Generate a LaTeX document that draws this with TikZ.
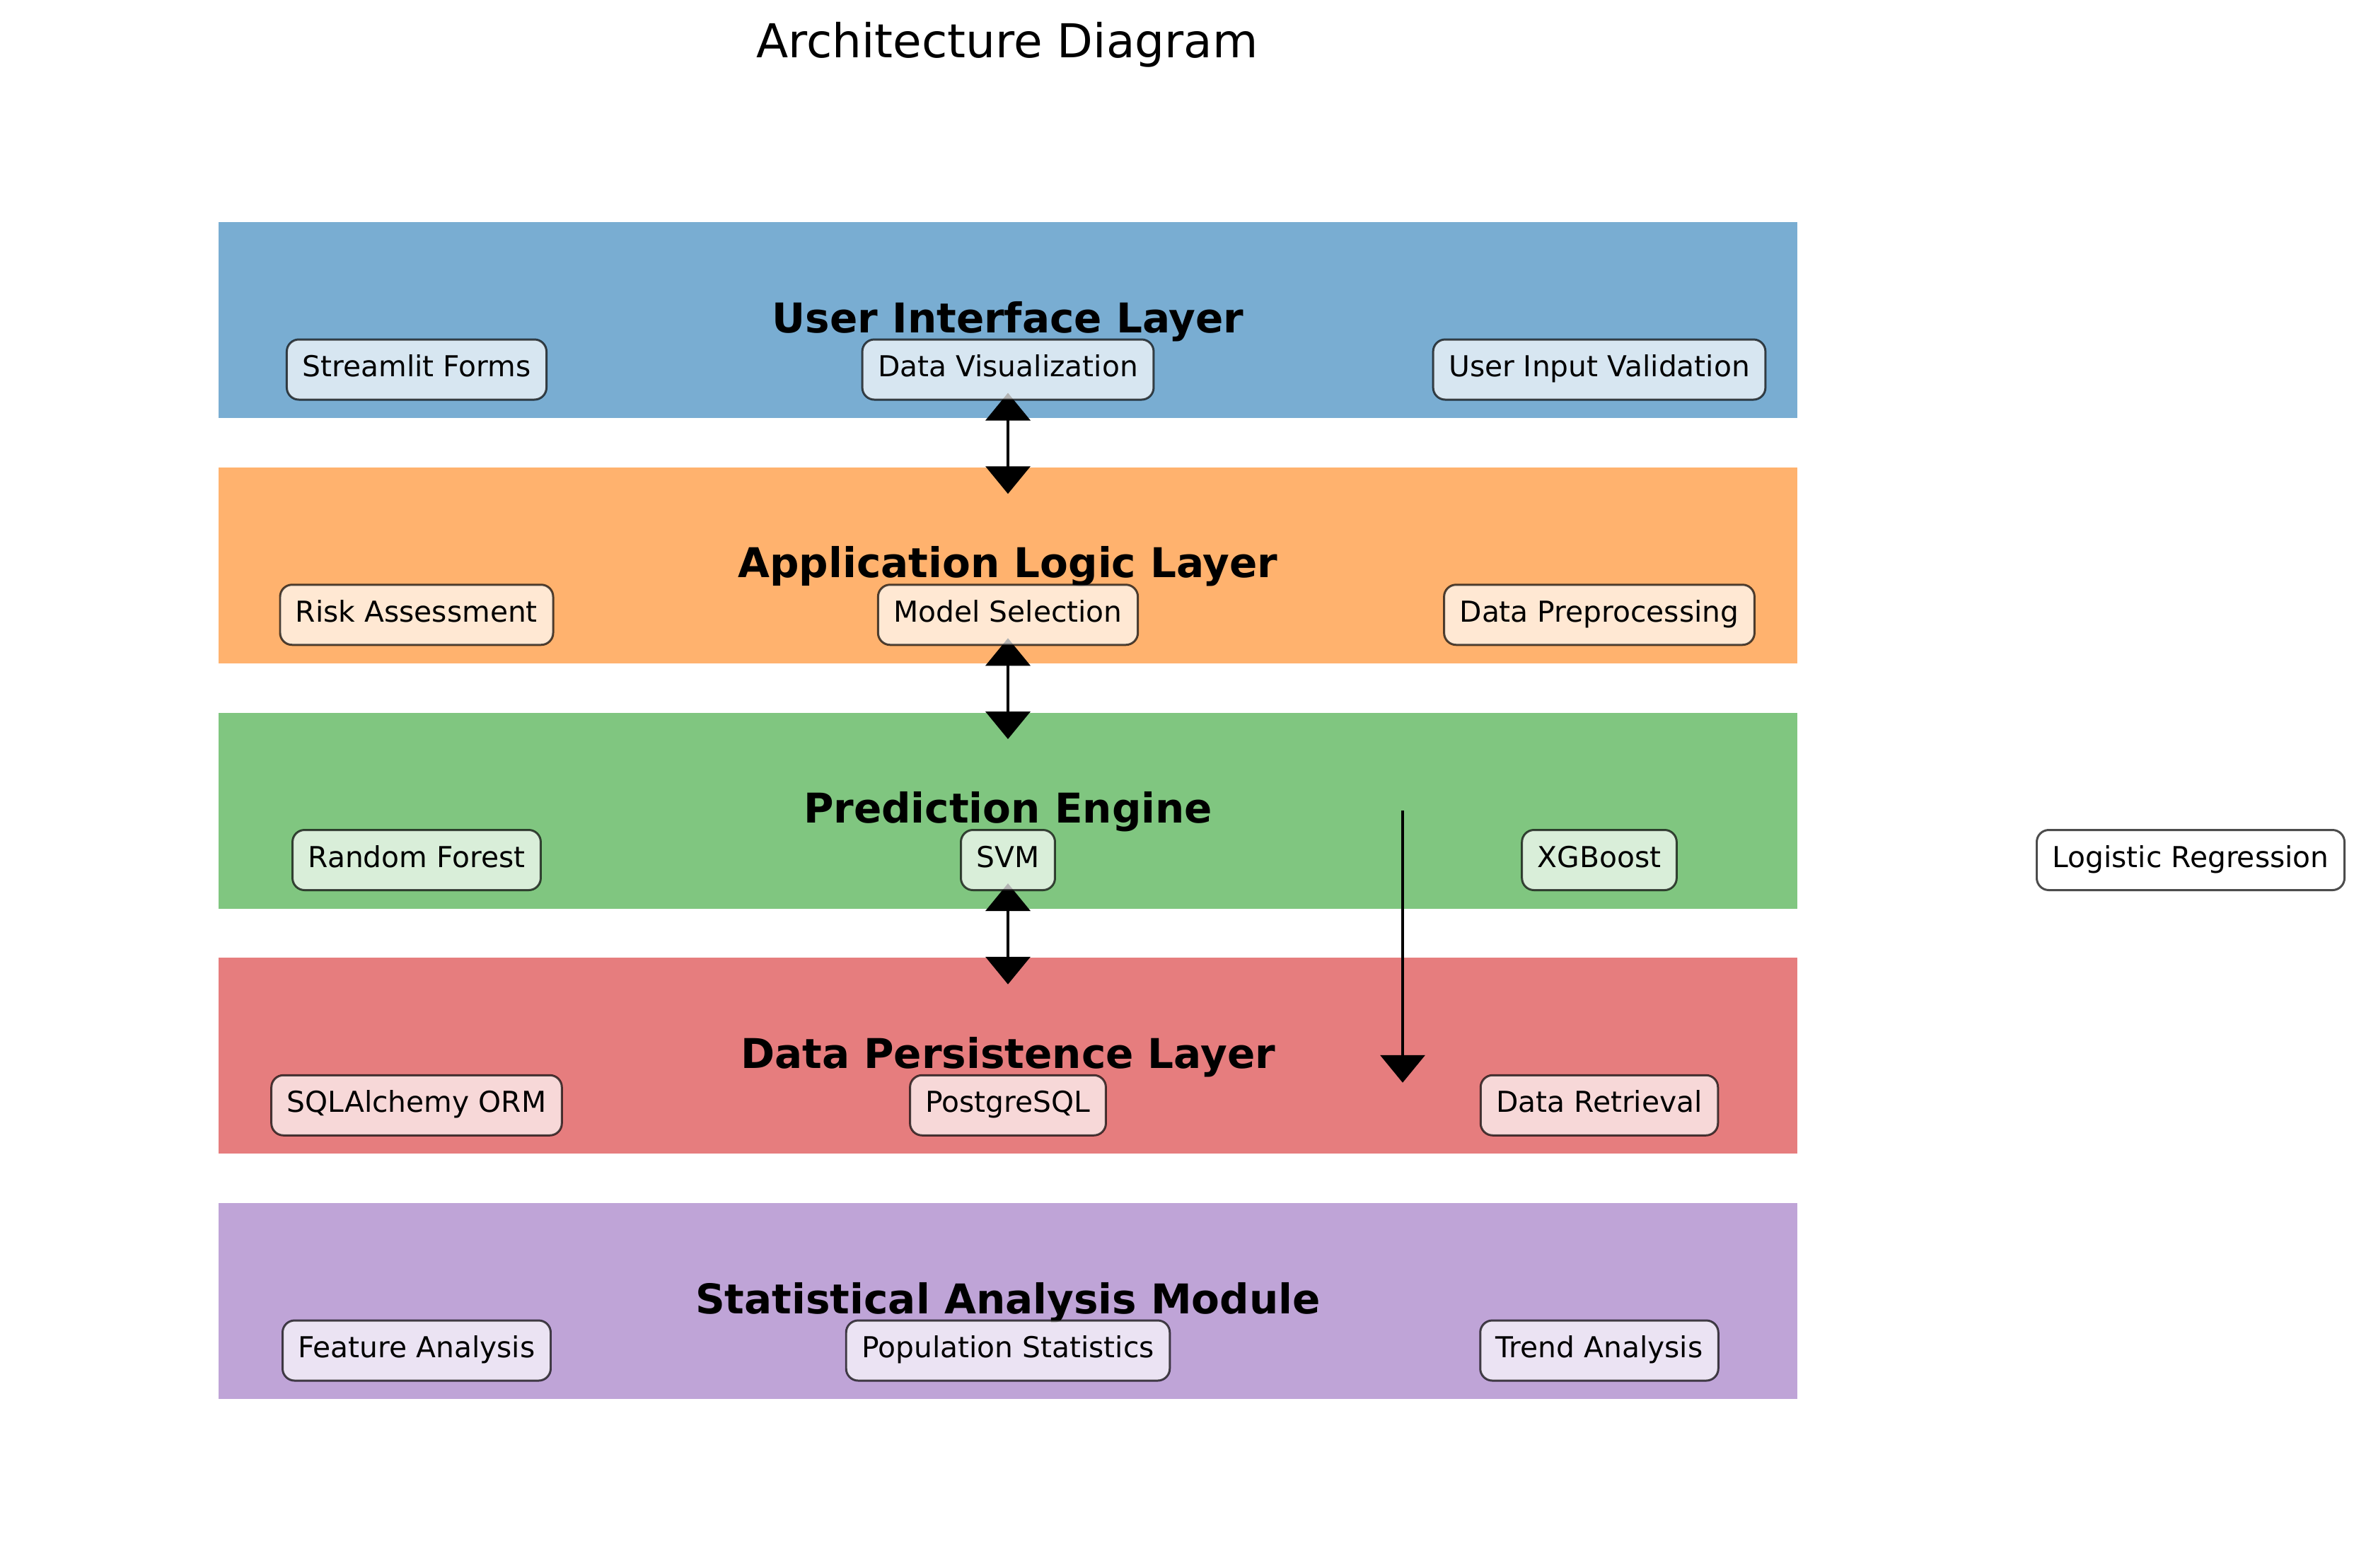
\documentclass[tikz,border=0pt]{standalone}
\usepackage{fontspec}
\setmainfont{DejaVu Sans}
\usetikzlibrary{positioning, arrows.meta}
\definecolor{uiblue}{HTML}{79ADD2}
\definecolor{logicorange}{HTML}{FFB26E}
\definecolor{enginegreen}{HTML}{80C680}
\definecolor{persistred}{HTML}{E67D7E}
\definecolor{statspurple}{HTML}{BFA4D7}
\tikzset{
  layer/.style={rectangle, minimum width=22.32cm, minimum height=2.77cm, inner sep=0pt, outer sep=0pt},
  layertitle/.style={anchor=base, font=\fontsize{16.5}{20}\selectfont\bfseries},
  comp/.style={rectangle, rounded corners=1.7mm, draw=black, fill=white, opacity=0.7, text opacity=1,
    line width=0.85pt, font=\fontsize{11.6}{14}\selectfont, text height=0.8em, text depth=0.22em,
    inner xsep=0.22cm, inner ysep=0.2cm, minimum height=0.85cm},
  link/.style={line width=1.15pt, >={Triangle[length=3.9mm, width=6.3mm]}}
}

\begin{document}
\begin{tikzpicture}
  \useasboundingbox (0,0) rectangle (33.28,-22.16);
  % Title
  \node (title) [anchor=base, font=\fontsize{18.8}{22}\selectfont] at (14.24,-0.81) {Architecture Diagram};

  % Layers
  \node (ui) [layer, fill=uiblue] at (14.25,-4.525) {};
  \node (logic) [layer, fill=logicorange, below=0.6975cm of ui] {};
  \node (engine) [layer, fill=enginegreen, below=0.6975cm of logic] {};
  \node (persist) [layer, fill=persistred, below=0.6975cm of engine] {};
  \node (stats) [layer, fill=statspurple, below=0.6975cm of persist] {};

  \node (uititle) [layertitle] at ([yshift=-0.175cm]ui.center) {User Interface Layer};
  \node (logictitle) [layertitle] at ([yshift=-0.175cm]logic.center) {Application Logic Layer};
  \node (enginetitle) [layertitle] at ([yshift=-0.175cm]engine.center) {Prediction Engine};
  \node (persisttitle) [layertitle] at ([yshift=-0.175cm]persist.center) {Data Persistence Layer};
  \node (statstitle) [layertitle] at ([yshift=-0.175cm]stats.center) {Statistical Analysis Module};

  % Flow between layers
  \draw[link, <->] ([yshift=-1.03cm]ui.center) -- ([yshift=1.01cm]logic.center);
  \draw[link, <->] ([yshift=-1.03cm]logic.center) -- ([yshift=1.01cm]engine.center);
  \draw[link, <->] ([yshift=-1.03cm]engine.center) -- ([yshift=1.01cm]persist.center);
  \draw[link, ->] ([xshift=5.58cm]engine.center) -- ([xshift=5.58cm, yshift=-0.38cm]persist.center);

  % Components
  \node (forms) [comp] at ([xshift=-8.36cm, yshift=-0.7cm]ui.center) {Streamlit Forms};
  \node (dataviz) [comp] at ([yshift=-0.7cm]ui.center) {Data Visualization};
  \node (validation) [comp] at ([xshift=8.36cm, yshift=-0.7cm]ui.center) {User Input Validation};

  \node (risk) [comp] at ([xshift=-8.36cm, yshift=-0.7cm]logic.center) {Risk Assessment};
  \node (selection) [comp] at ([yshift=-0.7cm]logic.center) {Model Selection};
  \node (preproc) [comp] at ([xshift=8.36cm, yshift=-0.7cm]logic.center) {Data Preprocessing};

  \node (forest) [comp] at ([xshift=-8.36cm, yshift=-0.7cm]engine.center) {Random Forest};
  \node (svm) [comp] at ([yshift=-0.7cm]engine.center) {SVM};
  \node (xgboost) [comp] at ([xshift=8.36cm, yshift=-0.7cm]engine.center) {XGBoost};
  \node (logreg) [comp] at ([xshift=16.72cm, yshift=-0.7cm]engine.center) {Logistic Regression};

  \node (orm) [comp] at ([xshift=-8.36cm, yshift=-0.7cm]persist.center) {SQLAlchemy ORM};
  \node (postgres) [comp] at ([yshift=-0.7cm]persist.center) {PostgreSQL};
  \node (retrieval) [comp] at ([xshift=8.36cm, yshift=-0.7cm]persist.center) {Data Retrieval};

  \node (features) [comp] at ([xshift=-8.36cm, yshift=-0.7cm]stats.center) {Feature Analysis};
  \node (population) [comp] at ([yshift=-0.7cm]stats.center) {Population Statistics};
  \node (trends) [comp] at ([xshift=8.36cm, yshift=-0.7cm]stats.center) {Trend Analysis};
\end{tikzpicture}
\end{document}
